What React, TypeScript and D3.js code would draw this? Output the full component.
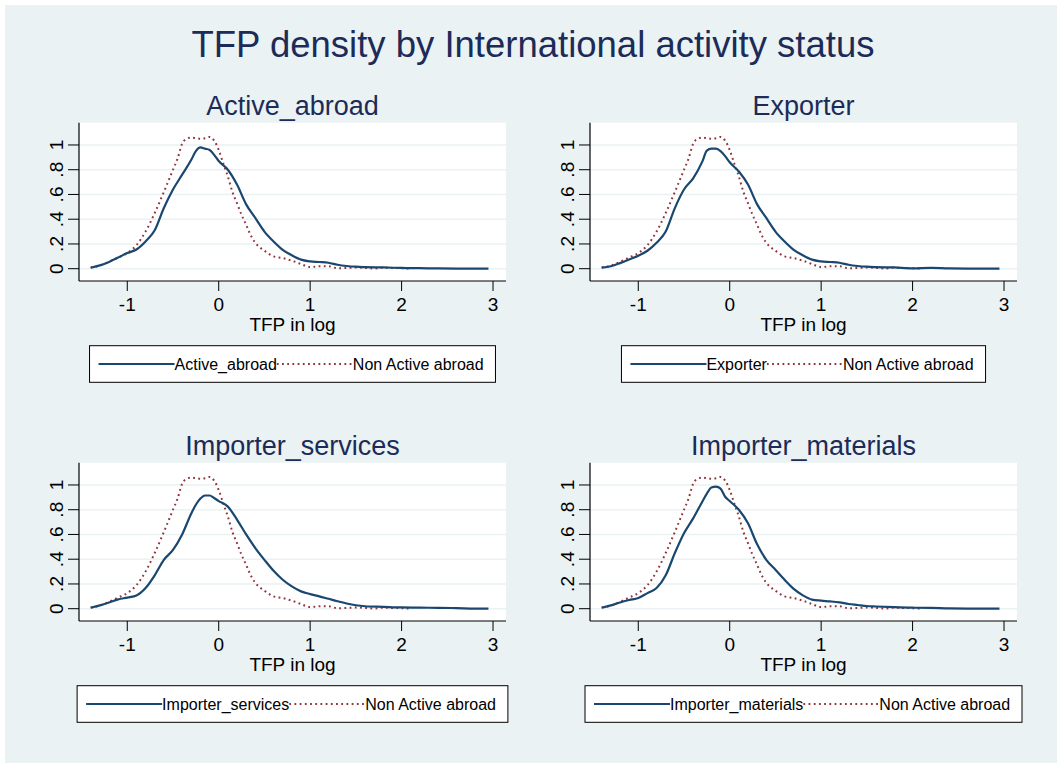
import React from 'react'
import * as d3 from 'd3'

const width = 1057
const height = 763
const mainTitle = 'TFP density by International activity status'
const xAxisTitle = 'TFP in log'
const refLabel = 'Non Active abroad'
const panelTitles = ['Active_abroad', 'Exporter', 'Importer_services', 'Importer_materials']
const xTicks = [-1, 0, 1, 2, 3]
const yTicks = [0, 0.2, 0.4, 0.6, 0.8, 1]
const yTickLabels = ['0', '.2', '.4', '.6', '.8', '1']

// x grid shared by the four group curves
const groupX = [-1.4, -1.3, -1.2, -1.1, -1.0, -0.9, -0.8, -0.7, -0.6, -0.5, -0.4, -0.3, -0.25, -0.2, -0.15, -0.1, -0.05,
  0, 0.1, 0.2, 0.3, 0.4, 0.5, 0.6, 0.7, 0.8, 0.9, 1.0, 1.1, 1.2, 1.3, 1.4, 1.5, 1.6, 1.8, 2.0, 2.2, 2.4, 2.6, 2.8, 2.95]

const activeAbroad = [0.008, 0.027, 0.055, 0.09, 0.126, 0.155, 0.22, 0.31, 0.49, 0.64, 0.76, 0.88, 0.95, 0.98, 0.97, 0.96, 0.92,
  0.87, 0.8, 0.68, 0.52, 0.41, 0.3, 0.22, 0.153, 0.108, 0.073, 0.059, 0.054, 0.048, 0.032, 0.022, 0.016, 0.013, 0.01, 0.006, 0.004, 0.002, 0.001, 0.001, 0.001]
const exporter = [0.008, 0.02, 0.045, 0.075, 0.105, 0.145, 0.21, 0.3, 0.49, 0.64, 0.73, 0.865, 0.955, 0.97, 0.97, 0.95, 0.91,
  0.86, 0.785, 0.68, 0.52, 0.41, 0.3, 0.22, 0.153, 0.108, 0.073, 0.059, 0.054, 0.048, 0.032, 0.022, 0.016, 0.013, 0.01, 0.003, 0.006, 0.002, 0.001, 0.001, 0.001]
const importerServices = [0.008, 0.027, 0.05, 0.075, 0.09, 0.107, 0.167, 0.27, 0.395, 0.475, 0.6, 0.77, 0.84, 0.89, 0.915, 0.915, 0.895,
  0.87, 0.825, 0.72, 0.6, 0.49, 0.395, 0.306, 0.234, 0.18, 0.14, 0.118, 0.1, 0.08, 0.06, 0.042, 0.028, 0.02, 0.015, 0.01, 0.008, 0.007, 0.005, 0.001, 0.001]
const importerMaterials = [0.008, 0.027, 0.05, 0.07, 0.086, 0.126, 0.167, 0.27, 0.45, 0.61, 0.73, 0.865, 0.93, 0.98, 0.987, 0.97, 0.905,
  0.87, 0.8, 0.69, 0.52, 0.395, 0.315, 0.234, 0.16, 0.108, 0.073, 0.065, 0.059, 0.051, 0.038, 0.03, 0.022, 0.018, 0.012, 0.008, 0.007, 0.002, 0.001, 0.001, 0.001]

// reference group, same curve in every panel
const nonActiveX = [-1.4, -1.3, -1.2, -1.1, -1.0, -0.9, -0.8, -0.7, -0.6, -0.5, -0.45, -0.4, -0.35, -0.3, -0.25, -0.2, -0.15, -0.1, -0.05,
  0, 0.05, 0.1, 0.15, 0.2, 0.25, 0.3, 0.35, 0.4, 0.5, 0.6, 0.7, 0.8, 0.9, 1.0, 1.1, 1.2, 1.3, 1.4, 1.5, 1.6, 1.7, 1.8, 1.9, 2.0, 2.1]
const nonActiveY = [0.01, 0.025, 0.055, 0.09, 0.126, 0.19, 0.3, 0.45, 0.62, 0.8, 0.89, 1.01, 1.05, 1.06, 1.055, 1.05, 1.055, 1.065, 1.035,
  0.96, 0.85, 0.745, 0.62, 0.53, 0.435, 0.355, 0.27, 0.21, 0.145, 0.1, 0.086, 0.065, 0.038, 0.013, 0.019, 0.019, 0.004, 0.006, 0.01, 0.006, 0.002, 0.008, 0.006, 0.004, 0]

const groupSeries = [activeAbroad, exporter, importerServices, importerMaterials]

const blue = '#1a476f'
const red = '#90353b'
const navy = '#1c2b57'
const bg = '#eaf2f3'
const font = '"Liberation Sans", Arial, Helvetica, sans-serif'

const plotL = 79
const plotR = 506
const plotT = 122.7
const plotB = 281
const colStep = 511
const rowStep = 340

const x = d3.scaleLinear().domain([-1.528, 3.142]).range([plotL, plotR])
const y = d3.scaleLinear().domain([-0.0994, 1.18]).range([plotB, plotT])

const line = d3.line<[number, number]>()
  .x(d => x(d[0]))
  .y(d => y(d[1]))
  .curve(d3.curveMonotoneX)

let ctx: CanvasRenderingContext2D | null = null
const textWidth = (s: string, size: number) => {
  if (!ctx) ctx = document.createElement('canvas').getContext('2d')
  if (!ctx) return s.length * size * 0.5
  ctx.font = `${size}px ${font}`
  return ctx.measureText(s).width
}

const Panel = ({ i }: { i: number }) => {
  const dx = (i % 2) * colStep
  const dy = Math.floor(i / 2) * rowStep
  const title = panelTitles[i]
  const groupPath = line(groupX.map((v, k) => [v, groupSeries[i][k]] as [number, number])) || ''
  const refPath = line(nonActiveX.map((v, k) => [v, nonActiveY[k]] as [number, number])) || ''
  const cx = (plotL + plotR) / 2

  const keyLen = 76
  const t1 = textWidth(title, 16)
  const t2 = textWidth(refLabel, 16)
  const boxW = 9 + keyLen + t1 + keyLen + t2 + 11
  const boxX = cx - boxW / 2
  const boxY = plotB + 64.7
  const boxH = 36.6
  const midY = boxY + boxH / 2

  return (
    <g transform={`translate(${dx},${dy})`}>
      <text x={cx} y={plotT - 7.7} textAnchor="middle" fontSize={27} fill={navy}>{title}</text>
      <rect x={plotL} y={plotT} width={plotR - plotL} height={plotB - plotT} fill="#fff" />
      {yTicks.map(t => (
        <line key={t} x1={plotL} x2={plotR} y1={y(t)} y2={y(t)} stroke={bg} strokeWidth={1.6} />
      ))}
      <path d={refPath} fill="none" stroke={red} strokeWidth={2} strokeDasharray="1.8 3.4" />
      <path d={groupPath} fill="none" stroke={blue} strokeWidth={2.2} strokeLinejoin="round" />
      <line x1={plotL} x2={plotL} y1={plotT} y2={plotB} stroke="#000" strokeWidth={1.2} />
      <line x1={plotL} x2={plotR} y1={plotB} y2={plotB} stroke="#000" strokeWidth={1.2} />
      {yTicks.map((t, k) => (
        <g key={t}>
          <line x1={plotL - 11} x2={plotL} y1={y(t)} y2={y(t)} stroke="#000" strokeWidth={1} />
          <text transform={`translate(${plotL - 16},${y(t)}) rotate(-90)`} textAnchor="middle" fontSize={19} fill="#000">
            {yTickLabels[k]}
          </text>
        </g>
      ))}
      {xTicks.map(t => (
        <g key={t}>
          <line x1={x(t)} x2={x(t)} y1={plotB} y2={plotB + 10} stroke="#000" strokeWidth={1} />
          <text x={x(t)} y={plotB + 29.7} textAnchor="middle" fontSize={19} fill="#000">{t}</text>
        </g>
      ))}
      <text x={cx} y={plotB + 49.7} textAnchor="middle" fontSize={19} fill="#000">{xAxisTitle}</text>
      <rect x={boxX} y={boxY} width={boxW} height={boxH} fill="#fff" stroke="#000" strokeWidth={1} />
      <line x1={boxX + 9} x2={boxX + 9 + keyLen} y1={midY} y2={midY} stroke={blue} strokeWidth={2.2} />
      <text x={boxX + 9 + keyLen} y={midY + 5.5} fontSize={16} fill="#000">{title}</text>
      <line x1={boxX + 9 + keyLen + t1} x2={boxX + 9 + keyLen * 2 + t1} y1={midY} y2={midY}
        stroke={red} strokeWidth={2} strokeDasharray="1.8 3.4" />
      <text x={boxX + 9 + keyLen * 2 + t1} y={midY + 5.5} fontSize={16} fill="#000">{refLabel}</text>
    </g>
  )
}

const App = () => {
  return (
    <svg width={width} height={height} style={{ position: 'absolute', left: 0, top: 0 }} fontFamily={font}>
      <rect x={0} y={0} width={width} height={height} fill="#fff" />
      <rect x={5} y={5} width={width - 5} height={height - 5} fill={bg} />
      <text x={533} y={56.7} textAnchor="middle" fontSize={36.5} fill={navy}>{mainTitle}</text>
      {panelTitles.map((_, i) => <Panel key={i} i={i} />)}
    </svg>
  )
}

export default App
